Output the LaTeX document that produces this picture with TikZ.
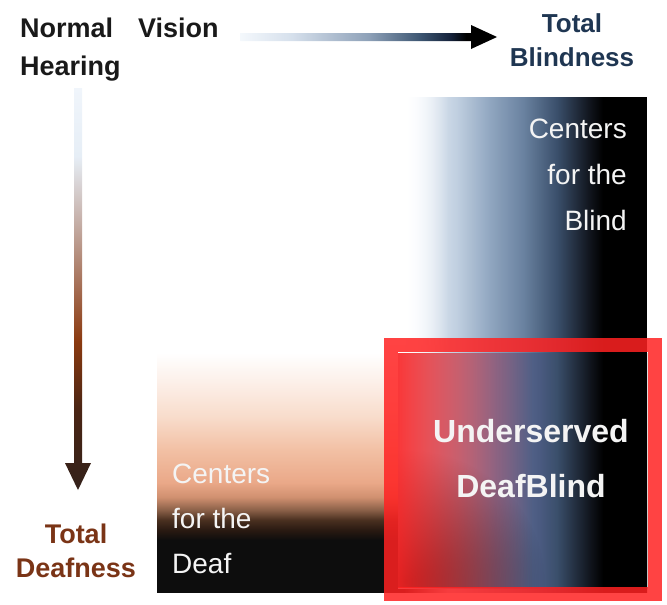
\documentclass[tikz,border=0pt]{standalone}
\usepackage{fontspec}
\setmainfont{Liberation Sans}
\usetikzlibrary{fadings}

\definecolor{navytxt}{HTML}{1F3652}
\definecolor{browntxt}{HTML}{7A3416}
\definecolor{redbox}{HTML}{FF2222}
\definecolor{boxtxt}{HTML}{F4F4F4}
% horizontal arrow colours
\definecolor{ha0}{HTML}{F4F8FC}
\definecolor{ha1}{HTML}{D6E0EC}
\definecolor{ha2}{HTML}{8EA1B8}
\definecolor{ha3}{HTML}{3D5672}
\definecolor{ha4}{HTML}{15223A}
% vertical arrow colours
\definecolor{va0}{HTML}{33211A}
\definecolor{va1}{HTML}{4A2514}
\definecolor{va2}{HTML}{8B3A10}
\definecolor{va3}{HTML}{A46C52}
\definecolor{va4}{HTML}{C4ACA4}
\definecolor{va5}{HTML}{E6EEF6}
\definecolor{va6}{HTML}{F0F5FB}
% blind box colours
\definecolor{bb0}{HTML}{FAFCFE}
\definecolor{bb1}{HTML}{E6EDF5}
\definecolor{bb2}{HTML}{C0CFE0}
\definecolor{bb3}{HTML}{90A6C0}
\definecolor{bb4}{HTML}{6A82A0}
\definecolor{bb5}{HTML}{3A4F6B}
\definecolor{bb6}{HTML}{10141C}
% overlap colours
\definecolor{ov0}{HTML}{D0D4E2}
\definecolor{ov1}{HTML}{9098B6}
\definecolor{ov2}{HTML}{6A78A0}
\definecolor{ov3}{HTML}{4A5A80}
% deaf box colours
\definecolor{db0}{HTML}{0D0D0D}
\definecolor{db1}{HTML}{2A1A12}
\definecolor{db2}{HTML}{4A3020}
\definecolor{db3}{HTML}{8A6048}
\definecolor{db4}{HTML}{D09070}
\definecolor{db5}{HTML}{EAA888}
\definecolor{db6}{HTML}{F2C0A4}
\definecolor{db7}{HTML}{F8DCCB}
\definecolor{db8}{HTML}{FCEFE8}

% TikZ fits a path into the central 50bp of a 100bp shading: stops p -> 25+p/2
\pgfdeclarehorizontalshading{harrow}{100bp}{color(0bp)=(ha0); color(25bp)=(ha0); color(35bp)=(ha1); color(50bp)=(ha2); color(60bp)=(ha3); color(66bp)=(ha4); color(69bp)=(black); color(100bp)=(black)}
\pgfdeclareverticalshading{varrow}{100bp}{color(0bp)=(va0); color(25bp)=(va0); color(35bp)=(va1); color(43.5bp)=(va2); color(50bp)=(va3); color(58bp)=(va4); color(66.5bp)=(va5); color(75bp)=(va6); color(100bp)=(va6)}
\pgfdeclarehorizontalshading{blindshade}{100bp}{color(0bp)=(bb0); color(25bp)=(bb0); color(28.7bp)=(bb1); color(35.7bp)=(bb2); color(42.6bp)=(bb3); color(49.4bp)=(bb4); color(56.4bp)=(bb5); color(63.2bp)=(bb6); color(65.9bp)=(black); color(100bp)=(black)}
\pgfdeclarehorizontalshading{ovshade}{100bp}{color(0bp)=(ov0); color(25bp)=(ov0); color(37.4bp)=(ov1); color(44.5bp)=(ov2); color(53.5bp)=(ov3); color(56.9bp)=(bb5); color(63.6bp)=(bb6); color(66.2bp)=(black); color(100bp)=(black)}
\pgfdeclareverticalshading{deafshade}{100bp}{color(0bp)=(db0); color(35.5bp)=(db0); color(37.6bp)=(db1); color(39.6bp)=(db2); color(41.6bp)=(db3); color(44.2bp)=(db4); color(47.1bp)=(db5); color(53.7bp)=(db6); color(60.4bp)=(db7); color(67.3bp)=(db8); color(73.4bp)=(white); color(100bp)=(white)}

\begin{tikzfadingfrompicture}[name=blindfade]
  \fill[transparent!100] (-50bp,-50bp) rectangle (-25bp,50bp);
  \shade[left color=transparent!100, right color=transparent!0] (-25bp,-50bp) rectangle (-16bp,50bp);
  \fill[transparent!0] (-16bp,-50bp) rectangle (50bp,50bp);
\end{tikzfadingfrompicture}
\begin{tikzfadingfrompicture}[name=darkfade]
  \fill[transparent!100] (-50bp,-50bp) rectangle (50bp,50bp);
  \shade[inner color=transparent!15, outer color=transparent!100] (-25bp,-25bp) circle (28bp);
\end{tikzfadingfrompicture}
\begin{tikzfadingfrompicture}[name=redfade]
  \fill[transparent!12] (-50bp,-50bp) rectangle (-25bp,50bp);
  \shade[left color=transparent!12, right color=transparent!100] (-25bp,-50bp) rectangle (2bp,50bp);
  \fill[transparent!100] (2bp,-50bp) rectangle (50bp,50bp);
\end{tikzfadingfrompicture}

\begin{document}
\begin{tikzpicture}[x=1pt,y=-1pt,
  lbl/.style={inner sep=0pt,font=\bfseries\fontsize{27}{30}\selectfont},
  boxlbl/.style={inner sep=0pt,text=boxtxt,font=\fontsize{28}{30}\selectfont},
  bigbox/.style={inner sep=0pt,text=boxtxt,font=\bfseries\fontsize{32}{34}\selectfont}]
\useasboundingbox (0,0) rectangle (667,605);

% deaf box
\shade[shading=deafshade] (157,345) rectangle (647,592);
% blind box with left side fading out
\shade[shading=blindshade, path fading=blindfade, fit fading=true] (405,97) rectangle (647,592);
% overlap base, darkened in the lower left, then red overlay
\shade[shading=ovshade] (398,353) rectangle (647,588);
\fill[black, path fading=darkfade, fit fading=true] (398,353) rectangle (647,588);
\fill[redbox, path fading=redfade, fit fading=true] (398,353) rectangle (647,588);
% red frame
\draw[redbox, line width=14pt, opacity=0.85] (391,345) rectangle (655,594);

% arrows
\coordinate (hs) at (240,37);
\coordinate (he) at (497,37);
\shade[shading=harrow] (240,33) -- (471,33) -- (471,25) -- (he) -- (471,49) -- (471,41) -- (240,41) -- cycle;
\coordinate (vs) at (78,88);
\coordinate (ve) at (78,490);
\shade[shading=varrow] (74,88) -- (82,88) -- (82,463) -- (91,463) -- (ve) -- (65,463) -- (74,463) -- cycle;

% labels
\node[lbl, text=black!90, anchor=base west] (nv1) at (20,37) {Normal};
\node[lbl, text=black!90, anchor=base west] (nv2) at (138,37) {Vision};
\node[lbl, text=black!90, anchor=base west] (hear) at (20,75) {Hearing};
\node[lbl, text=navytxt, anchor=base, font=\bfseries\fontsize{26}{30}\selectfont] (tb1) at (572,32) {Total};
\node[lbl, text=navytxt, anchor=base, font=\bfseries\fontsize{26}{30}\selectfont] (tb2) at (572,66) {Blindness};
\node[lbl, text=browntxt, anchor=base] (td1) at (76,543) {Total};
\node[lbl, text=browntxt, anchor=base] (td2) at (76,577) {Deafness};

\node[boxlbl, anchor=base east] (cb1) at (627,138) {Centers};
\node[boxlbl, anchor=base east] (cb2) at (627,184) {for the};
\node[boxlbl, anchor=base east] (cb3) at (627,230) {Blind};

\node[boxlbl, anchor=base west] (cd1) at (172,483) {Centers};
\node[boxlbl, anchor=base west] (cd2) at (172,528) {for the};
\node[boxlbl, anchor=base west] (cd3) at (172,573) {Deaf};

\node[bigbox, anchor=base] (ud1) at (531,442) {Underserved};
\node[bigbox, anchor=base] (ud2) at (531,497) {DeafBlind};
\end{tikzpicture}
\end{document}
